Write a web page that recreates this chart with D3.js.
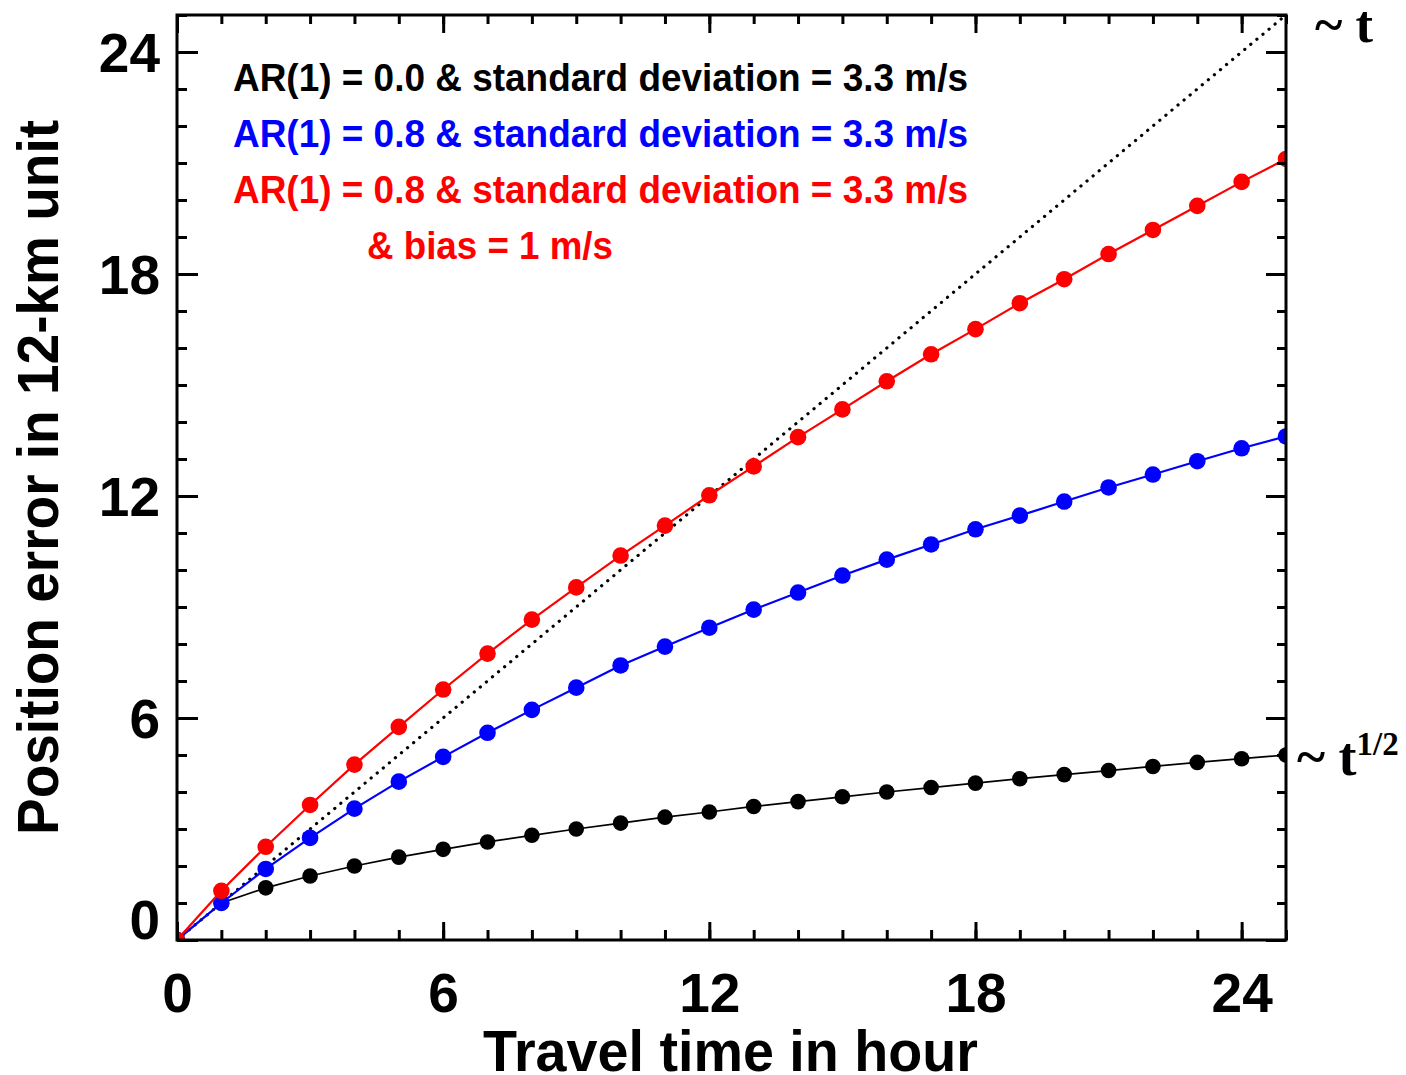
<!DOCTYPE html>
<html>
<head>
<meta charset="utf-8">
<script src="https://cdn.jsdelivr.net/npm/d3@7"></script>
<style>
  body { margin: 0; background: #fff; }
  svg { display: block; }
  .tick text { font-family: "Liberation Sans", Arial, sans-serif; font-weight: bold; }
</style>
</head>
<body>
<svg id="chart" width="1406" height="1075"></svg>
<script>
// travel time (hour) for each marker
var hours = [0, 1, 2, 3, 4, 5, 6, 7, 8, 9, 10, 11, 12, 13, 14, 15, 16, 17, 18, 19, 20, 21, 22, 23, 24, 25];

// AR(1) = 0.0, sd = 3.3 m/s  (grows like t^1/2)
var errWhite = [0, 1.0, 1.41, 1.73, 2.0, 2.24, 2.45, 2.65, 2.83, 3.0, 3.16, 3.32, 3.46, 3.61, 3.74, 3.87, 4.0, 4.12, 4.24, 4.36, 4.47, 4.58, 4.69, 4.80, 4.90, 5.0];
// AR(1) = 0.8, sd = 3.3 m/s
var errRed = [0, 1.0, 1.92, 2.76, 3.55, 4.28, 4.95, 5.60, 6.22, 6.82, 7.42, 7.93, 8.44, 8.93, 9.39, 9.85, 10.28, 10.69, 11.10, 11.47, 11.85, 12.23, 12.58, 12.94, 13.29, 13.61];
// AR(1) = 0.8, sd = 3.3 m/s, bias = 1 m/s
var errBias = [0, 1.33, 2.52, 3.65, 4.74, 5.76, 6.77, 7.74, 8.66, 9.53, 10.39, 11.20, 12.02, 12.80, 13.59, 14.34, 15.10, 15.83, 16.51, 17.21, 17.86, 18.54, 19.19, 19.84, 20.49, 21.11];

// reference line ~ t
var refLine = [[0, 0], [25, 25]];

var majorTicks = [0, 6, 12, 18, 24];
var minorTicks = hours;

var legendLines = [
  "AR(1) = 0.0 & standard deviation = 3.3 m/s",
  "AR(1) = 0.8 & standard deviation = 3.3 m/s",
  "AR(1) = 0.8 & standard deviation = 3.3 m/s",
  "& bias = 1 m/s"
];

var svg = d3.select("#chart");
var pLeft = 177, pRight = 1286, pTop = 15, pBottom = 940;

var x = d3.scaleLinear().domain([0, 25]).range([pLeft, pRight]);
var y = d3.scaleLinear().domain([0, 25]).range([pBottom, pTop]);

var font = '"Liberation Sans", Arial, sans-serif';

svg.append("rect").attr("width", 1406).attr("height", 1075).attr("fill", "#fff");

svg.append("clipPath").attr("id", "plotclip")
  .append("rect")
  .attr("x", pLeft).attr("y", pTop)
  .attr("width", pRight - pLeft).attr("height", pBottom - pTop);

var plot = svg.append("g").attr("clip-path", "url(#plotclip)");

var line = d3.line()
  .x(function (d) { return x(d[0]); })
  .y(function (d) { return y(d[1]); });

//dotted 1:1 line
plot.append("path")
  .attr("d", line(refLine))
  .attr("fill", "none")
  .attr("stroke", "#000")
  .attr("stroke-width", 3.2)
  .attr("stroke-linecap", "round")
  .attr("stroke-dasharray", "0.1,7.8");

var series = [
  { vals: errWhite, color: "#000", width: 1.7, r: 7.8 },
  { vals: errRed, color: "#0000ff", width: 2.2, r: 8.3 },
  { vals: errBias, color: "#ff0000", width: 2.2, r: 8.3 }
];

series.forEach(function (s) {
  var pts = hours.map(function (h, i) { return [h, s.vals[i]]; });
  plot.append("path")
    .attr("d", line(pts))
    .attr("fill", "none")
    .attr("stroke", s.color)
    .attr("stroke-width", s.width);
  plot.selectAll(null)
    .data(pts)
    .enter().append("circle")
    .attr("cx", function (d) { return x(d[0]); })
    .attr("cy", function (d) { return y(d[1]); })
    .attr("r", s.r)
    .attr("fill", s.color);
});

// axes - ticks point inward, major every 6, minor every 1
function styleAxis(g) {
  g.select(".domain").remove();
  g.selectAll("line").attr("stroke", "#000").attr("stroke-width", 3);
}

svg.append("g").attr("transform", "translate(0," + pBottom + ")")
  .call(d3.axisBottom(x).tickValues(minorTicks).tickSize(-10).tickFormat(""))
  .call(styleAxis);
svg.append("g").attr("transform", "translate(0," + pBottom + ")")
  .call(d3.axisBottom(x).tickValues(majorTicks).tickSize(-18).tickPadding(33).tickFormat(d3.format("d")))
  .call(styleAxis)
  .call(function (g) {
    g.selectAll("text").attr("fill", "#000").style("font-size", "55px");
  });

svg.append("g").attr("transform", "translate(0," + pTop + ")")
  .call(d3.axisTop(x).tickValues(minorTicks).tickSize(-9).tickFormat(""))
  .call(styleAxis);
svg.append("g").attr("transform", "translate(0," + pTop + ")")
  .call(d3.axisTop(x).tickValues(majorTicks).tickSize(-18).tickFormat(""))
  .call(styleAxis);

svg.append("g").attr("transform", "translate(" + pLeft + ",0)")
  .call(d3.axisLeft(y).tickValues(minorTicks).tickSize(-10).tickFormat(""))
  .call(styleAxis);
svg.append("g").attr("transform", "translate(" + pLeft + ",0)")
  .call(d3.axisLeft(y).tickValues(majorTicks).tickSize(-21).tickPadding(17).tickFormat(d3.format("d")))
  .call(styleAxis)
  .call(function (g) {
    g.selectAll("text").attr("fill", "#000").style("font-size", "55px")
      .attr("dy", function (d) { return d === 0 ? "-0.02em" : "0.36em"; });
  });

svg.append("g").attr("transform", "translate(" + pRight + ",0)")
  .call(d3.axisRight(y).tickValues(minorTicks).tickSize(-9).tickFormat(""))
  .call(styleAxis);
svg.append("g").attr("transform", "translate(" + pRight + ",0)")
  .call(d3.axisRight(y).tickValues(majorTicks).tickSize(-20).tickFormat(""))
  .call(styleAxis);

// frame
svg.append("rect")
  .attr("x", pLeft).attr("y", pTop)
  .attr("width", pRight - pLeft).attr("height", pBottom - pTop)
  .attr("fill", "none")
  .attr("stroke", "#000")
  .attr("stroke-width", 3);

// axis titles
svg.append("text")
  .attr("x", 483).attr("y", 1071)
  .attr("textLength", 495).attr("lengthAdjust", "spacingAndGlyphs")
  .style("font-family", font).style("font-weight", "bold").style("font-size", "58px")
  .text("Travel time in hour");

svg.append("text")
  .attr("transform", "translate(58,835) rotate(-90)")
  .attr("textLength", 715).attr("lengthAdjust", "spacingAndGlyphs")
  .style("font-family", font).style("font-weight", "bold").style("font-size", "57px")
  .text("Position error in 12-km unit");

// legend text
var legendColors = ["#000", "#0000ff", "#ff0000", "#ff0000"];
var legendX = [233, 233, 233, 367];
var legendLen = [735, 735, 735, 246];
svg.selectAll(".legend")
  .data(legendLines)
  .enter().append("text")
  .attr("class", "legend")
  .attr("x", function (d, i) { return legendX[i]; })
  .attr("y", function (d, i) { return 91 + i * 56; })
  .attr("textLength", function (d, i) { return legendLen[i]; })
  .attr("lengthAdjust", "spacingAndGlyphs")
  .attr("fill", function (d, i) { return legendColors[i]; })
  .style("font-family", font).style("font-weight", "bold").style("font-size", "39px")
  .text(function (d) { return d; });

// growth-rate annotations
var serif = '"Liberation Serif", "Times New Roman", serif';
svg.append("text")
  .attr("x", 1315).attr("y", 42)
  .attr("textLength", 58).attr("lengthAdjust", "spacingAndGlyphs")
  .style("font-family", serif).style("font-weight", "bold").style("font-size", "52px")
  .text("~ t");

var half = svg.append("text")
  .attr("x", 1297).attr("y", 775)
  .style("font-family", serif).style("font-weight", "bold").style("font-size", "54px");
half.append("tspan").text("~ t");
half.append("tspan").attr("dy", -20).style("font-size", "33px").text("1/2");
</script>
</body>
</html>
